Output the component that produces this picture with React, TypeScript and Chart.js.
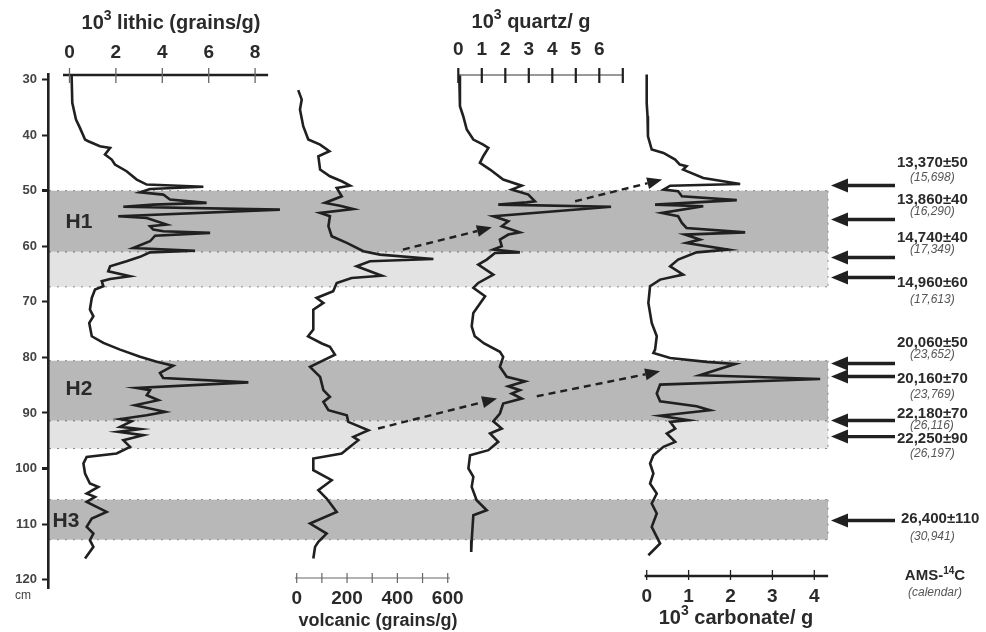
import React, { useEffect, useRef } from "react";
import { Chart, registerables } from "chart.js";

Chart.register(...registerables);

// ---------------- DATA ----------------
const DEPTH_TICKS = [30, 40, 50, 60, 70, 80, 90, 100, 110, 120];

const LITHIC_DEPTH = [29.1, 34.2, 37.2, 38.7, 40.8, 41.1, 42.0, 42.3, 43.5, 44.4, 45.3, 46.5, 48.0, 48.9, 49.3, 49.7, 50.3, 50.7, 51.6, 52.2, 52.5, 52.9, 53.4, 54.6, 54.9, 56.1, 56.4, 57.0, 57.3, 57.6, 58.1, 59.1, 60.3, 60.8, 61.1, 61.9, 62.7, 63.6, 64.5, 65.4, 65.9, 66.3, 67.2, 67.8, 69.3, 71.4, 72.6, 73.8, 76.2, 77.4, 78.6, 79.9, 80.8, 81.5, 82.8, 83.7, 84.5, 85.5, 85.9, 86.8, 87.7, 88.6, 89.8, 90.4, 91.1, 91.5, 92.5, 92.9, 93.4, 94.0, 94.9, 96.1, 97.3, 97.9, 99.1, 100.9, 102.7, 103.3, 104.5, 105.1, 106.0, 107.8, 109.0, 110.5, 111.7, 112.9, 114.1, 116.2];
const LITHIC_VALUE = [0.09, 0.12, 0.28, 0.45, 0.67, 0.81, 1.31, 1.75, 1.53, 1.82, 1.96, 2.46, 2.9, 3.33, 5.77, 3.47, 3.04, 4.04, 4.33, 5.91, 3.61, 2.32, 9.07, 2.1, 3.33, 4.19, 3.47, 3.61, 4.04, 6.06, 3.69, 3.47, 2.75, 5.41, 3.47, 3.04, 2.46, 1.75, 1.67, 2.61, 1.75, 1.39, 1.46, 1.1, 0.96, 0.88, 1.03, 0.85, 0.96, 1.46, 2.18, 3.04, 3.76, 4.47, 3.9, 4.04, 7.71, 2.9, 3.47, 3.33, 3.83, 2.82, 4.12, 3.33, 2.18, 2.68, 2.18, 3.04, 2.1, 3.18, 2.32, 2.61, 2.03, 0.74, 0.6, 0.67, 0.88, 1.24, 0.74, 1.1, 0.74, 1.6, 0.96, 0.74, 1.03, 0.88, 1.03, 0.67];

const VOLC_DEPTH = [31.9, 33.6, 35.4, 38.4, 40.8, 41.7, 42.9, 43.8, 46.2, 47.4, 48.3, 49.1, 49.5, 51.0, 52.2, 52.7, 53.3, 54.0, 54.6, 56.4, 58.2, 59.4, 60.9, 61.5, 62.3, 62.7, 63.6, 65.3, 65.7, 66.6, 68.1, 69.3, 70.2, 71.4, 75.0, 76.2, 77.5, 78.1, 79.5, 81.7, 83.5, 85.9, 87.1, 88.0, 89.5, 90.4, 91.6, 93.1, 94.3, 94.9, 96.1, 97.3, 98.2, 100.3, 102.1, 103.9, 105.4, 107.8, 109.9, 111.7, 113.2, 114.1, 116.2];
const VOLC_VALUE = [6, 20, 13, 26, 46, 93, 130, 86, 93, 132, 179, 212, 159, 179, 112, 172, 225, 93, 132, 126, 139, 199, 265, 331, 543, 291, 238, 338, 218, 159, 145, 79, 106, 66, 66, 45, 100, 132, 152, 53, 93, 106, 132, 106, 126, 199, 205, 285, 225, 245, 212, 179, 66, 66, 139, 86, 119, 159, 53, 119, 86, 73, 66];

const QTZ_DEPTH = [29.1, 34.8, 36.6, 39.0, 40.8, 41.7, 42.3, 43.8, 45.0, 46.2, 48.0, 49.1, 49.8, 50.7, 51.9, 52.1, 52.5, 52.9, 54.6, 55.5, 56.4, 57.5, 57.9, 58.8, 60.0, 60.6, 61.1, 61.2, 62.4, 63.3, 65.1, 66.6, 67.5, 69.0, 72.0, 74.4, 76.2, 77.5, 79.0, 79.9, 81.7, 83.5, 84.3, 85.2, 85.9, 86.5, 87.4, 88.3, 90.1, 91.5, 92.8, 93.7, 95.2, 96.7, 97.6, 100.0, 101.5, 103.3, 105.7, 107.5, 108.4, 112.9, 115.0];
const QTZ_VALUE = [0.04, 0.07, 0.21, 0.36, 0.64, 1.06, 1.28, 1.06, 0.92, 1.35, 1.91, 2.7, 2.27, 2.98, 3.26, 2.91, 1.7, 6.5, 1.49, 2.13, 1.85, 2.62, 2.13, 1.77, 1.85, 1.49, 2.62, 1.56, 1.21, 0.85, 1.49, 0.85, 0.64, 1.14, 0.64, 0.57, 0.7, 1.1, 1.77, 1.91, 1.77, 2.06, 2.84, 2.13, 2.62, 2.27, 2.7, 1.91, 1.77, 1.49, 1.85, 1.35, 1.7, 1.28, 0.5, 0.43, 0.64, 0.57, 0.78, 1.21, 0.64, 0.57, 0.55];

const CARB_DEPTH = [29.1, 34.2, 36.6, 40.2, 42.6, 43.2, 44.4, 45.3, 45.6, 46.2, 47.7, 48.8, 49.1, 49.8, 50.1, 51.0, 51.7, 52.2, 52.5, 52.8, 54.0, 54.6, 55.8, 56.7, 57.5, 57.9, 58.8, 59.4, 60.6, 61.1, 62.4, 63.6, 65.1, 66.0, 67.2, 70.2, 73.8, 76.2, 78.6, 79.2, 80.1, 80.8, 81.2, 83.2, 83.9, 84.9, 86.5, 87.9, 88.8, 89.5, 90.5, 91.3, 91.6, 92.8, 93.7, 95.2, 96.1, 97.6, 99.1, 100.9, 102.7, 104.5, 106.3, 108.1, 110.5, 112.3, 113.5, 115.6];
const CARB_VALUE = [0, 0, 0.02, 0.03, 0.12, 0.4, 0.68, 0.79, 0.95, 0.87, 1.35, 2.23, 0.56, 0.4, 0.75, 0.84, 2.15, 0.95, 0.2, 1.35, 0.36, 0.75, 0.84, 0.95, 2.35, 0.91, 1.27, 0.95, 1.95, 1.19, 0.75, 0.56, 0.87, 0.32, 0.08, 0.04, 0.12, 0.24, 0.2, 0.16, 0.56, 1.43, 2.11, 1.27, 4.14, 0.32, 0.24, 0.32, 1.19, 1.51, 0.32, 0.99, 0.56, 0.68, 0.48, 0.68, 0.4, 0.16, 0.08, 0.16, 0.08, 0.24, 0.12, 0.24, 0.12, 0.24, 0.32, 0.04];

const LITHIC_TICKS = [0, 2, 4, 6, 8];
const LITHIC_LABELS = [0, 2, 4, 6, 8];
const QUARTZ_TICKS = [0, 1, 2, 3, 4, 5, 6, 7];
const QUARTZ_LABELS = [0, 1, 2, 3, 4, 5, 6];
const VOLC_TICKS = [0, 100, 200, 300, 400, 500, 600];
const VOLC_LABELS = [0, 200, 400, 600];
const CARB_TICKS = [0, 1, 2, 3, 4];
const CARB_LABELS = [0, 1, 2, 3, 4];

const BAND_FROM = [50, 61, 80.6, 91.4, 105.6];
const BAND_TO = [61, 67.3, 91.4, 96.4, 112.8];
const BAND_KIND = ["dark", "light", "dark", "light", "dark"];

const EVENT_NAMES = ["H1", "H2", "H3"];
const EVENT_DEPTHS = [55.6, 85.7, 109.5];

const AMS_DEPTHS = [49.07, 55.19, 62.03, 65.63, 81.11, 83.45, 91.37, 94.25, 109.36];
const AMS_AGES = ["13,370±50", "13,860±40", "14,740±40", "14,960±60", "20,060±50", "20,160±70", "22,180±70", "22,250±90", "26,400±110"];
const CAL_AGES = ["(15,698)", "(16,290)", "(17,349)", "(17,613)", "(23,652)", "(23,769)", "(26,116)", "(26,197)", "(30,941)"];

const LINK_FROM_TRACK = ["xV", "xQ", "xV", "xQ"];
const LINK_FROM_VALUE = [422, 4.97, 323, 3.34];
const LINK_FROM_DEPTH = [60.6, 51.9, 92.8, 87.0];
const LINK_TO_TRACK = ["xQ", "xC", "xQ", "xC"];
const LINK_TO_VALUE = [1.43, 0.37, 1.65, 0.32];
const LINK_TO_DEPTH = [56.6, 48.0, 87.4, 82.5];

// ---------------- LAYOUT ----------------
const W = 986;
const H = 632;
const PAD = { top: 74, bottom: 44, left: 8, right: 156 };
const YAXIS_W = 40;
const AREA_L = PAD.left + YAXIS_W;
const AREA_R = W - PAD.right;
const FONT = '"Liberation Sans", Arial, Helvetica, sans-serif';
const INK = "#202020";
const TEXT = "#2a2a2a";

const TRACKS: Record<string, { zero: number; per: number }> = {
  xL: { zero: 69.5, per: 23.2 },
  xV: { zero: 296.7, per: 0.2517 },
  xQ: { zero: 458.3, per: 23.5 },
  xC: { zero: 646.7, per: 41.9 },
};
const trackScale = (id: string) => {
  const t = TRACKS[id];
  return {
    type: "linear" as const,
    display: false,
    min: (AREA_L - t.zero) / t.per,
    max: (AREA_R - t.zero) / t.per,
  };
};

type Part = { t: string; sup?: boolean };

const AXIS_SPECS = [
  { id: "xL", lineY: 75, from: -0.28, to: 8.56, ticks: LITHIC_TICKS, labels: LITHIC_LABELS, lineW: 2.6, lineC: INK, tickW: 1.3, tickC: "#666", tickTop: 68, tickBot: 83, labelY: 53, title: [{ t: "10" }, { t: "3", sup: true }, { t: " lithic (grains/g)" }] as Part[], titleX: 171, titleY: 23, titleSize: 20 },
  { id: "xQ", lineY: 75, from: 0, to: 7, ticks: QUARTZ_TICKS, labels: QUARTZ_LABELS, lineW: 1.3, lineC: "#777", tickW: 2.2, tickC: INK, tickTop: 68, tickBot: 83, labelY: 50, title: [{ t: "10" }, { t: "3", sup: true }, { t: " quartz/ g" }] as Part[], titleX: 531, titleY: 22, titleSize: 20 },
  { id: "xV", lineY: 578, from: -7, to: 609, ticks: VOLC_TICKS, labels: VOLC_LABELS, lineW: 1.2, lineC: "#666", tickW: 1.2, tickC: "#666", tickTop: 573, tickBot: 583, labelY: 599, title: [{ t: "volcanic (grains/g)" }] as Part[], titleX: 378, titleY: 621, titleSize: 18 },
  { id: "xC", lineY: 576, from: -0.05, to: 4.33, ticks: CARB_TICKS, labels: CARB_LABELS, lineW: 2.6, lineC: INK, tickW: 1.3, tickC: INK, tickTop: 570, tickBot: 580, labelY: 597, title: [{ t: "10" }, { t: "3", sup: true }, { t: " carbonate/ g" }] as Part[], titleX: 736, titleY: 618, titleSize: 20 },
];

const BAND_RIGHT = 828;
const EVENT_X = [79, 79, 66];
const ARROW_TIP_X = 831;
const ARROW_HEAD_L = 17;
const ARROW_HEAD_HW = 7;
const ARROW_TAIL_X = 895;
const AGE_X = 897;
const CAL_X = 910;
const AGE_DY = [-23, -20, -20, 5, -21, 2, -7, 2, -2];
const CAL_DY = [-8, -8, -8, 22, -9, 18, 5, 17, 16];

function drawRich(ctx: CanvasRenderingContext2D, parts: Part[], cx: number, cy: number, size: number, weight = "bold", color = TEXT) {
  const supSize = Math.round(size * 0.68);
  const font = (p: Part) => `${weight} ${p.sup ? supSize : size}px ${FONT}`;
  let total = 0;
  const widths = parts.map((p) => {
    ctx.font = font(p);
    const w = ctx.measureText(p.t).width;
    total += w;
    return w;
  });
  let x = cx - total / 2;
  ctx.fillStyle = color;
  ctx.textAlign = "left";
  ctx.textBaseline = "middle";
  parts.forEach((p, i) => {
    ctx.font = font(p);
    ctx.fillText(p.t, x, p.sup ? cy - size * 0.32 : cy);
    x += widths[i];
  });
}

const overlayPlugin = {
  id: "coreOverlay",
  beforeDraw(chart: any) {
    const { ctx, chartArea, scales } = chart;
    const y = scales.y;
    const left = chartArea.left + 1;
    ctx.save();
    BAND_FROM.forEach((f, i) => {
      const y0 = y.getPixelForValue(f);
      const y1 = y.getPixelForValue(BAND_TO[i]);
      ctx.fillStyle = BAND_KIND[i] === "dark" ? "#b8b8b8" : "#e3e3e3";
      ctx.fillRect(left, y0, BAND_RIGHT - left, y1 - y0);
    });
    ctx.strokeStyle = "#8a8a8a";
    ctx.lineWidth = 1;
    ctx.setLineDash([2, 6]);
    BAND_FROM.forEach((f, i) => {
      const y0 = y.getPixelForValue(f);
      const y1 = y.getPixelForValue(BAND_TO[i]);
      ctx.beginPath();
      ctx.moveTo(left, y0);
      ctx.lineTo(BAND_RIGHT, y0);
      ctx.moveTo(left, y1);
      ctx.lineTo(BAND_RIGHT, y1);
      ctx.moveTo(BAND_RIGHT, y0);
      ctx.lineTo(BAND_RIGHT, y1);
      ctx.stroke();
    });
    ctx.setLineDash([]);
    ctx.font = `bold 21px ${FONT}`;
    ctx.fillStyle = TEXT;
    ctx.textAlign = "center";
    ctx.textBaseline = "middle";
    EVENT_NAMES.forEach((n, i) => ctx.fillText(n, EVENT_X[i], y.getPixelForValue(EVENT_DEPTHS[i])));
    ctx.restore();
  },
  afterDraw(chart: any) {
    const { ctx, scales } = chart;
    const y = scales.y;
    ctx.save();
    // track axes
    AXIS_SPECS.forEach((a) => {
      const s = scales[a.id];
      ctx.strokeStyle = a.lineC;
      ctx.lineWidth = a.lineW;
      ctx.beginPath();
      ctx.moveTo(s.getPixelForValue(a.from), a.lineY);
      ctx.lineTo(s.getPixelForValue(a.to), a.lineY);
      ctx.stroke();
      ctx.strokeStyle = a.tickC;
      ctx.lineWidth = a.tickW;
      a.ticks.forEach((v) => {
        const x = s.getPixelForValue(v);
        ctx.beginPath();
        ctx.moveTo(x, a.tickTop);
        ctx.lineTo(x, a.tickBot);
        ctx.stroke();
      });
      ctx.font = `bold 19px ${FONT}`;
      ctx.fillStyle = TEXT;
      ctx.textAlign = "center";
      ctx.textBaseline = "middle";
      a.labels.forEach((v) => ctx.fillText(String(v), s.getPixelForValue(v), a.labelY));
      drawRich(ctx, a.title, a.titleX, a.titleY, a.titleSize);
    });
    // correlation arrows (dashed)
    LINK_FROM_TRACK.forEach((fromId, i) => {
      const x0 = scales[fromId].getPixelForValue(LINK_FROM_VALUE[i]);
      const y0 = y.getPixelForValue(LINK_FROM_DEPTH[i]);
      const x1 = scales[LINK_TO_TRACK[i]].getPixelForValue(LINK_TO_VALUE[i]);
      const y1 = y.getPixelForValue(LINK_TO_DEPTH[i]);
      const ang = Math.atan2(y1 - y0, x1 - x0);
      const hl = 15, hw = 6;
      const bx = x1 - hl * Math.cos(ang);
      const by = y1 - hl * Math.sin(ang);
      ctx.strokeStyle = INK;
      ctx.lineWidth = 2.4;
      ctx.setLineDash([7, 5]);
      ctx.beginPath();
      ctx.moveTo(x0, y0);
      ctx.lineTo(bx, by);
      ctx.stroke();
      ctx.setLineDash([]);
      ctx.fillStyle = INK;
      ctx.beginPath();
      ctx.moveTo(x1, y1);
      ctx.lineTo(bx + hw * Math.sin(ang), by - hw * Math.cos(ang));
      ctx.lineTo(bx - hw * Math.sin(ang), by + hw * Math.cos(ang));
      ctx.closePath();
      ctx.fill();
    });
    // AMS arrows and labels
    AMS_DEPTHS.forEach((d, i) => {
      const py = y.getPixelForValue(d);
      ctx.strokeStyle = INK;
      ctx.lineWidth = 3.4;
      ctx.beginPath();
      ctx.moveTo(ARROW_TIP_X + ARROW_HEAD_L - 1, py);
      ctx.lineTo(ARROW_TAIL_X, py);
      ctx.stroke();
      ctx.fillStyle = INK;
      ctx.beginPath();
      ctx.moveTo(ARROW_TIP_X, py);
      ctx.lineTo(ARROW_TIP_X + ARROW_HEAD_L, py - ARROW_HEAD_HW);
      ctx.lineTo(ARROW_TIP_X + ARROW_HEAD_L, py + ARROW_HEAD_HW);
      ctx.closePath();
      ctx.fill();
      ctx.textAlign = "left";
      ctx.textBaseline = "middle";
      ctx.font = `bold 15px ${FONT}`;
      ctx.fillStyle = TEXT;
      ctx.fillText(AMS_AGES[i], AGE_X + (i === 8 ? 4 : 0), py + AGE_DY[i]);
      ctx.font = `italic 12px ${FONT}`;
      ctx.fillStyle = "#555";
      ctx.fillText(CAL_AGES[i], CAL_X, py + CAL_DY[i]);
    });
    drawRich(ctx, [{ t: "AMS-" }, { t: "14", sup: true }, { t: "C" }], 935, 576, 15);
    ctx.font = `italic 12px ${FONT}`;
    ctx.fillStyle = "#555";
    ctx.textAlign = "center";
    ctx.textBaseline = "middle";
    ctx.fillText("(calendar)", 935, 593);
    ctx.font = `12px ${FONT}`;
    ctx.fillStyle = "#444";
    ctx.fillText("cm", 23, 596);
    ctx.restore();
  },
};

const curve = (depth: number[], value: number[], axis: string) => ({
  type: "scatter" as const,
  data: depth.map((d, i) => ({ x: value[i], y: d })),
  xAxisID: axis,
  yAxisID: "y",
  showLine: true,
  borderColor: INK,
  borderWidth: 2.6,
  pointRadius: 0,
  pointHoverRadius: 0,
  tension: 0,
  clip: false as any,
});

export default function App() {
  const ref = useRef<HTMLCanvasElement>(null);
  useEffect(() => {
    if (!ref.current) return;
    const chart = new Chart(ref.current, {
      type: "scatter",
      data: {
        datasets: [
          curve(LITHIC_DEPTH, LITHIC_VALUE, "xL"),
          curve(VOLC_DEPTH, VOLC_VALUE, "xV"),
          curve(QTZ_DEPTH, QTZ_VALUE, "xQ"),
          curve(CARB_DEPTH, CARB_VALUE, "xC"),
        ] as any,
      },
      options: {
        animation: false,
        responsive: false,
        maintainAspectRatio: false,
        devicePixelRatio: 1,
        layout: { padding: PAD },
        plugins: { legend: { display: false }, tooltip: { enabled: false } },
        events: [],
        scales: {
          y: {
            type: "linear",
            position: "left",
            reverse: true,
            min: 29,
            max: 121.5,
            afterBuildTicks: (s: any) => {
              s.ticks = DEPTH_TICKS.map((v) => ({ value: v }));
            },
            afterFit: (s: any) => {
              s.width = YAXIS_W;
            },
            grid: { drawOnChartArea: false, drawTicks: true, tickLength: 6, color: INK, tickWidth: (c: any) => (c.tick && (c.tick.value === 50 || c.tick.value === 100) ? 3 : 2) },
            border: { display: true, color: INK, width: 2.6 },
            ticks: { font: { family: FONT, size: 13, weight: "bold" }, color: "#444", padding: 5 },
          },
          xL: trackScale("xL"),
          xV: trackScale("xV"),
          xQ: trackScale("xQ"),
          xC: trackScale("xC"),
        } as any,
      },
      plugins: [overlayPlugin],
    });
    return () => chart.destroy();
  }, []);
  return (
    <div style={{ position: "fixed", left: 0, top: 0, width: W, height: H, background: "#fff" }}>
      <canvas ref={ref} width={W} height={H} style={{ display: "block" }} />
    </div>
  );
}
